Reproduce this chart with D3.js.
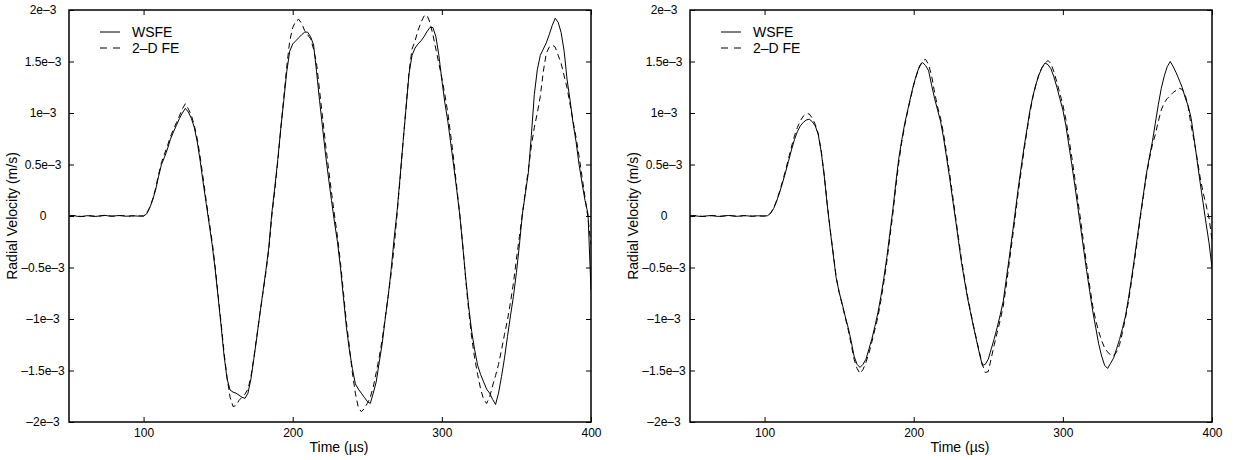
<!DOCTYPE html>
<html>
<head>
<meta charset="utf-8">
<script src="https://cdn.jsdelivr.net/npm/d3@7"></script>
<style>
  html, body { margin: 0; padding: 0; background: #fff; }
  svg { display: block; font-family: "Liberation Sans", Arial, Helvetica, sans-serif; }
</style>
</head>
<body>
<svg id="chart" width="1235" height="460"></svg>
<script>
// Sample times (µs), shared by every series
const timeUs = [
  50, 52, 54, 56, 58, 60, 62, 64, 66, 68, 70, 72, 74, 76, 78, 80, 82, 84, 86, 88, 90, 92, 94, 96, 98,
  100, 102, 104, 106, 108, 110, 112, 114, 116, 118, 120, 122, 124, 126, 128, 130, 132, 134, 136, 138,
  140, 142, 144, 146, 148, 150, 152, 154, 156, 158, 160, 162, 164, 166, 168, 170, 172, 174, 176, 178,
  180, 182, 184, 186, 188, 190, 192, 194, 196, 198, 200, 202, 204, 206, 208, 210, 212, 214, 216, 218,
  220, 222, 224, 226, 228, 230, 232, 234, 236, 238, 240, 242, 244, 246, 248, 250, 252, 254, 256, 258,
  260, 262, 264, 266, 268, 270, 272, 274, 276, 278, 280, 282, 284, 286, 288, 290, 292, 294, 296, 298,
  300, 302, 304, 306, 308, 310, 312, 314, 316, 318, 320, 322, 324, 326, 328, 330, 332, 334, 336, 338,
  340, 342, 344, 346, 348, 350, 352, 354, 356, 358, 360, 362, 364, 366, 368, 370, 372, 374, 376, 378,
  380, 382, 384, 386, 388, 390, 392, 394, 396, 398, 400
];

// Radial velocity, in units of 1e-3 m/s
const wsfeLeft = [
  0.000, 0.004, 0.002, -0.004, -0.006, -0.002, 0.003, 0.001, -0.003, -0.004, 0.000, 0.004, 0.006,
  0.002, -0.002, 0.000, 0.003, 0.005, 0.002, -0.002, -0.001, 0.002, 0.001, -0.001, 0.000,
  0.000, 0.020, 0.075, 0.150, 0.250, 0.380, 0.500, 0.570, 0.650, 0.745, 0.815, 0.880, 0.945, 1.000,
  1.045, 1.010, 0.950, 0.860, 0.720, 0.530,
  0.320, 0.120, -0.080, -0.280, -0.520, -0.790, -1.070, -1.360, -1.580, -1.690, -1.710, -1.720,
  -1.740, -1.760, -1.770, -1.720, -1.580, -1.380, -1.170, -0.950,
  -0.740, -0.530, -0.300, 0.030, 0.280, 0.550, 0.850, 1.120, 1.400, 1.600, 1.670, 1.700, 1.730,
  1.760, 1.785, 1.785, 1.740, 1.660, 1.400, 1.120,
  0.860, 0.600, 0.370, 0.150, -0.060, -0.250, -0.500, -0.790, -1.080, -1.300, -1.480, -1.630,
  -1.680, -1.720, -1.760, -1.800, -1.820, -1.720, -1.610, -1.420,
  -1.240, -1.000, -0.780, -0.520, -0.220, 0.050, 0.380, 0.720, 1.050, 1.380, 1.560, 1.630, 1.670,
  1.700, 1.740, 1.790, 1.830, 1.830, 1.740, 1.560,
  1.320, 1.100, 0.920, 0.700, 0.480, 0.250, 0.010, -0.290, -0.600, -0.880, -1.120, -1.300, -1.450,
  -1.540, -1.610, -1.680, -1.720, -1.780, -1.830, -1.720,
  -1.560, -1.380, -1.170, -0.970, -0.780, -0.550, -0.280, 0.020, 0.220, 0.420, 0.780, 1.180, 1.420,
  1.560, 1.620, 1.680, 1.760, 1.850, 1.920, 1.880,
  1.780, 1.600, 1.320, 1.120, 0.900, 0.720, 0.500, 0.320, 0.150, 0.020, -0.720
];

const feLeft = [
  0.000, 0.002, 0.004, 0.000, -0.004, -0.004, 0.001, 0.003, 0.000, -0.003, -0.002, 0.002, 0.005,
  0.003, 0.000, -0.002, 0.001, 0.004, 0.003, 0.000, -0.002, 0.001, 0.002, 0.000, 0.000,
  0.000, 0.022, 0.080, 0.160, 0.265, 0.400, 0.520, 0.600, 0.680, 0.770, 0.840, 0.905, 0.970, 1.040,
  1.090, 1.040, 0.980, 0.880, 0.750, 0.570,
  0.360, 0.150, -0.050, -0.250, -0.490, -0.770, -1.040, -1.330, -1.570, -1.760, -1.850, -1.840,
  -1.790, -1.760, -1.730, -1.680, -1.560, -1.370, -1.160, -0.950,
  -0.750, -0.550, -0.320, 0.000, 0.250, 0.530, 0.850, 1.150, 1.450, 1.700, 1.830, 1.890, 1.910,
  1.870, 1.800, 1.760, 1.720, 1.620, 1.480, 1.220,
  0.960, 0.700, 0.460, 0.230, 0.010, -0.200, -0.450, -0.740, -1.030, -1.270, -1.520, -1.720,
  -1.860, -1.900, -1.870, -1.820, -1.760, -1.660, -1.520, -1.370,
  -1.200, -0.990, -0.780, -0.560, -0.300, 0.020, 0.360, 0.720, 1.060, 1.400, 1.620, 1.700, 1.800,
  1.880, 1.940, 1.950, 1.880, 1.760, 1.620, 1.480,
  1.340, 1.180, 1.000, 0.780, 0.540, 0.280, 0.020, -0.280, -0.620, -0.920, -1.180, -1.380, -1.540,
  -1.680, -1.780, -1.820, -1.760, -1.650, -1.550, -1.440,
  -1.300, -1.150, -1.010, -0.840, -0.650, -0.420, -0.200, 0.020, 0.240, 0.450, 0.680, 0.860, 1.000,
  1.160, 1.400, 1.580, 1.640, 1.660, 1.640, 1.560,
  1.480, 1.360, 1.240, 1.080, 0.920, 0.760, 0.580, 0.380, 0.180, -0.020, -0.280
];

const wsfeRight = [
  0.000, 0.003, 0.001, -0.003, -0.005, -0.001, 0.002, 0.004, 0.001, -0.003, -0.004, 0.000, 0.003,
  0.005, 0.002, -0.002, -0.003, 0.001, 0.004, 0.002, -0.001, -0.002, 0.001, 0.002, 0.000,
  0.000, 0.003, 0.025, 0.070, 0.140, 0.225, 0.320, 0.420, 0.530, 0.640, 0.740, 0.820, 0.875, 0.910,
  0.932, 0.940, 0.915, 0.875, 0.790, 0.620,
  0.390, 0.110, -0.140, -0.370, -0.600, -0.740, -0.850, -0.970, -1.080, -1.210, -1.360, -1.440,
  -1.470, -1.440, -1.390, -1.290, -1.190, -1.070, -0.940, -0.780,
  -0.600, -0.400, -0.170, 0.060, 0.320, 0.560, 0.740, 0.900, 1.030, 1.160, 1.280, 1.380, 1.460,
  1.490, 1.460, 1.410, 1.270, 1.140, 1.030, 0.920,
  0.760, 0.570, 0.380, 0.170, -0.030, -0.240, -0.450, -0.620, -0.790, -0.930, -1.070, -1.200,
  -1.330, -1.450, -1.440, -1.390, -1.290, -1.190, -1.080, -0.960,
  -0.830, -0.620, -0.410, -0.190, 0.030, 0.260, 0.470, 0.670, 0.850, 1.030, 1.170, 1.280, 1.370,
  1.440, 1.485, 1.470, 1.430, 1.350, 1.250, 1.140,
  1.030, 0.880, 0.690, 0.500, 0.300, 0.090, -0.120, -0.330, -0.540, -0.730, -0.920, -1.080, -1.240,
  -1.360, -1.450, -1.480, -1.430, -1.380, -1.290, -1.200,
  -1.090, -0.970, -0.800, -0.610, -0.410, -0.200, 0.010, 0.210, 0.410, 0.570, 0.720, 0.900, 1.080,
  1.240, 1.360, 1.450, 1.500, 1.450, 1.390, 1.320,
  1.250, 1.150, 1.070, 0.950, 0.750, 0.540, 0.330, 0.130, -0.070, -0.260, -0.500
];

const feRight = [
  0.000, 0.002, 0.003, 0.000, -0.003, -0.004, 0.000, 0.003, 0.004, 0.000, -0.003, -0.002, 0.002,
  0.004, 0.003, 0.000, -0.002, -0.001, 0.003, 0.003, 0.000, -0.002, 0.000, 0.001, 0.000,
  0.000, 0.004, 0.027, 0.075, 0.148, 0.235, 0.335, 0.440, 0.555, 0.670, 0.775, 0.860, 0.925, 0.970,
  0.995, 0.990, 0.950, 0.890, 0.800, 0.630,
  0.400, 0.120, -0.130, -0.360, -0.590, -0.740, -0.860, -0.980, -1.100, -1.240, -1.390, -1.480,
  -1.530, -1.490, -1.420, -1.330, -1.220, -1.100, -0.980, -0.820,
  -0.640, -0.440, -0.210, 0.020, 0.280, 0.520, 0.720, 0.880, 1.020, 1.150, 1.270, 1.370, 1.450,
  1.510, 1.520, 1.470, 1.360, 1.200, 1.060, 0.950,
  0.800, 0.610, 0.420, 0.210, 0.000, -0.210, -0.420, -0.600, -0.770, -0.920, -1.060, -1.190,
  -1.320, -1.440, -1.520, -1.510, -1.380, -1.250, -1.130, -1.010,
  -0.880, -0.680, -0.460, -0.240, -0.010, 0.220, 0.430, 0.640, 0.830, 1.010, 1.160, 1.280, 1.380,
  1.440, 1.480, 1.510, 1.480, 1.400, 1.300, 1.190,
  1.080, 0.940, 0.760, 0.570, 0.370, 0.160, -0.050, -0.270, -0.480, -0.680, -0.870, -1.010, -1.120,
  -1.210, -1.280, -1.320, -1.350, -1.360, -1.320, -1.250,
  -1.130, -0.990, -0.830, -0.640, -0.440, -0.230, -0.010, 0.190, 0.390, 0.550, 0.690, 0.790, 0.920,
  1.030, 1.100, 1.140, 1.170, 1.200, 1.220, 1.240,
  1.230, 1.180, 1.060, 0.880, 0.730, 0.560, 0.380, 0.230, 0.110, -0.020, -0.230
];

const seriesNames = ["WSFE", "2\u2013D FE"];
const xTicks = [100, 200, 300, 400];
const xTickLabels = ["100", "200", "300", "400"];
const yTicks = [-2e-3, -1.5e-3, -1e-3, -0.5e-3, 0, 0.5e-3, 1e-3, 1.5e-3, 2e-3];
const yTickLabels = ["\u20132e\u20133", "\u20131.5e\u20133", "\u20131e\u20133", "\u20130.5e\u20133", "0",
                     "0.5e\u20133", "1e\u20133", "1.5e\u20133", "2e\u20133"];
const xLabel = "Time (\u00b5s)";
const yLabel = "Radial Velocity (m/s)";

const panels = [
  { left: 69,  series: [wsfeLeft, feLeft] },
  { left: 690, series: [wsfeRight, feRight] }
];

const plotW = 522, plotTop = 10, plotBottom = 422;
const dashes = [null, "6,4"];
const svg = d3.select("#chart");

const x = d3.scaleLinear().domain([50, 400]).range([0, plotW]);
const y = d3.scaleLinear().domain([-2e-3, 2e-3]).range([plotBottom, plotTop]);

panels.forEach((p, pi) => {
  const g = svg.append("g").attr("transform", `translate(${p.left},0)`);
  const clipId = `plot-clip-${pi}`;
  g.append("clipPath").attr("id", clipId)
    .append("rect").attr("x", 0).attr("y", plotTop)
    .attr("width", plotW).attr("height", plotBottom - plotTop);

  const line = d3.line()
    .x((d, i) => x(timeUs[i]))
    .y(d => y(d * 1e-3));

  p.series.forEach((vals, si) => {
    g.append("path")
      .attr("clip-path", `url(#${clipId})`)
      .attr("d", line(vals))
      .attr("fill", "none")
      .attr("stroke", "#000")
      .attr("stroke-width", 1)
      .attr("stroke-linejoin", "round")
      .attr("stroke-dasharray", dashes[si]);
  });

  // axes with inward ticks on all four sides
  const styleAxis = sel => {
    sel.select(".domain").remove();
    sel.attr("font-family", null).attr("font-size", 12);
    sel.selectAll(".tick line").attr("stroke", "#000");
    sel.selectAll(".tick text").attr("fill", "#000");
  };

  g.append("g").attr("transform", `translate(0,${plotBottom})`)
    .call(d3.axisBottom(x).tickValues(xTicks)
      .tickFormat((d, i) => xTickLabels[i])
      .tickSizeInner(-5).tickSizeOuter(0).tickPadding(6))
    .call(styleAxis);

  g.append("g").attr("transform", `translate(0,${plotTop})`)
    .call(d3.axisTop(x).tickValues(xTicks).tickFormat("")
      .tickSizeInner(-5).tickSizeOuter(0))
    .call(styleAxis);

  g.append("g")
    .call(d3.axisLeft(y).tickValues(yTicks)
      .tickFormat((d, i) => yTickLabels[i])
      .tickSizeInner(-5).tickSizeOuter(0))
    .call(styleAxis)
    .call(a => a.selectAll(".tick text").attr("x", -26).attr("text-anchor", "middle"));

  g.append("g").attr("transform", `translate(${plotW},0)`)
    .call(d3.axisRight(y).tickValues(yTicks).tickFormat("")
      .tickSizeInner(-5).tickSizeOuter(0))
    .call(styleAxis);

  // frame
  g.append("rect")
    .attr("x", 0).attr("y", plotTop)
    .attr("width", plotW).attr("height", plotBottom - plotTop)
    .attr("fill", "none").attr("stroke", "#000").attr("stroke-width", 1.5);

  // legend
  const lg = g.append("g").attr("transform", "translate(31,32)");
  seriesNames.forEach((name, si) => {
    const row = lg.append("g").attr("transform", `translate(0,${si * 16})`);
    row.append("line").attr("x1", 0).attr("x2", 20).attr("y1", 0).attr("y2", 0)
      .attr("stroke", "#000").attr("stroke-width", 1)
      .attr("stroke-dasharray", si ? "7,6" : null);
    row.append("text").attr("x", 32).attr("y", 0).attr("dy", "0.35em")
      .attr("font-size", 14).text(name);
  });

  // axis titles
  g.append("text")
    .attr("x", plotW / 2 + 9).attr("y", 452)
    .attr("text-anchor", "middle").attr("font-size", 14)
    .text(xLabel);

  g.append("text")
    .attr("transform", `translate(-57,${(plotTop + plotBottom) / 2}) rotate(-90)`)
    .attr("text-anchor", "middle").attr("dy", "0.35em").attr("font-size", 14)
    .text(yLabel);
});
</script>
</body>
</html>
